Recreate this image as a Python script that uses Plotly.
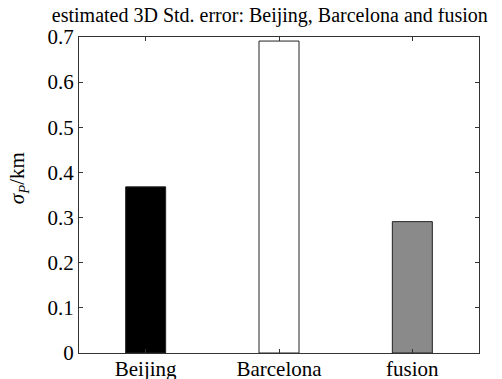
import plotly.graph_objects as go

categories = ["Beijing", "Barcelona", "fusion"]
values = [0.368, 0.691, 0.291]
colors = ["#000000", "#ffffff", "#8a8a8a"]
y_ticks = [0, 0.1, 0.2, 0.3, 0.4, 0.5, 0.6, 0.7]
y_ticktext = ["0", "0.1", "0.2", "0.3", "0.4", "0.5", "0.6", "0.7"]

fig = go.Figure()
fig.add_trace(go.Bar(
    x=[1, 2, 3], y=values, width=0.3,
    marker=dict(color=colors, line=dict(color="#222222", width=1)),
))

font = "Liberation Serif, Times New Roman, serif"
fig.update_layout(
    width=494, height=371,
    margin=dict(l=71, r=23, t=29, b=26, autoexpand=False),
    paper_bgcolor="white", plot_bgcolor="white",
    showlegend=False,
    font=dict(family=font, color="black", size=21),
    title=dict(text="estimated 3D Std. error: Beijing, Barcelona and fusion",
               x=0.530, xanchor="center", y=0.981, yanchor="middle",
               font=dict(family=font, size=20, color="black")),
    xaxis=dict(range=[0.5, 3.5], tickvals=[1, 2, 3], ticktext=categories,
               ticks="inside", ticklen=4, tickcolor="#333", showline=True,
               linecolor="#333", linewidth=1, mirror="ticks", showgrid=False,
               zeroline=False, tickfont=dict(size=21), ticklabelstandoff=-3,
               automargin=False),
    yaxis=dict(range=[0, 0.7], tickvals=y_ticks, ticktext=y_ticktext,
               ticks="inside", ticklen=4, tickcolor="#333", showline=True,
               linecolor="#333", linewidth=1, mirror="ticks", showgrid=False,
               zeroline=False, tickfont=dict(size=21), ticklabelstandoff=0,
               automargin=False),
    annotations=[dict(text="<i>σ</i><sub><i>P</i></sub>/km", textangle=-90,
                      xref="paper", yref="paper", x=-0.152, y=0.554,
                      xanchor="center", yanchor="middle", showarrow=False,
                      font=dict(family=font, size=21, color="black"))],
)
fig.write_html("out.html")
